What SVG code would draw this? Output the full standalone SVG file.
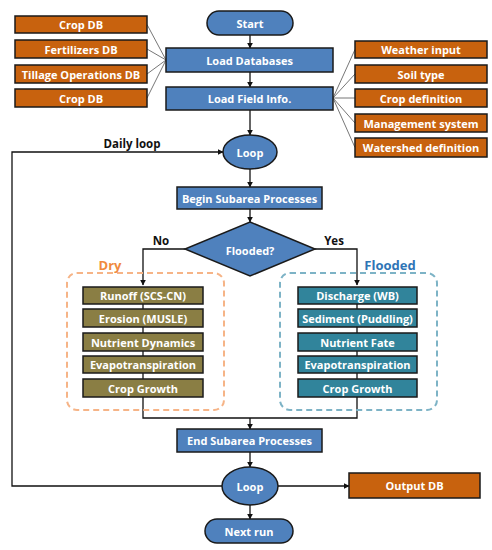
<svg xmlns="http://www.w3.org/2000/svg" width="492" height="550" viewBox="0 0 492 550">
<defs>
<marker id="ah" viewBox="0 0 10 10" refX="9" refY="5" markerWidth="6" markerHeight="6" orient="auto" markerUnits="userSpaceOnUse"><path d="M0,0 L10,5 L0,10 z" fill="#111"/></marker>
<style>
.blue{fill:#4F81BD;stroke:#1a1a1a;stroke-width:1.5}
.org{fill:#C8620E;stroke:#1a1a1a;stroke-width:1.5}
.olive{fill:#8A7E44;stroke:#1a1a1a;stroke-width:1.5}
.teal{fill:#31849B;stroke:#1a1a1a;stroke-width:1.5}
.t{font-family:"Open Sans","Noto Sans",sans-serif;font-weight:bold;font-size:11px;fill:#fff;text-anchor:middle;dominant-baseline:central}
.lbl{font-family:"Open Sans","Noto Sans",sans-serif;font-weight:bold;font-size:11.5px;fill:#111;text-anchor:middle;dominant-baseline:central}
.ln{fill:none;stroke:#111;stroke-width:1.3}
.gl{fill:none;stroke:#777;stroke-width:1}
</style>
</defs>
<g id="connectors">
<path class="ln" d="M250,35 V48" marker-end="url(#ah)"/>
<path class="ln" d="M250,72 V87" marker-end="url(#ah)"/>
<path class="ln" d="M250,110 V135" marker-end="url(#ah)"/>
<path class="ln" d="M250,169 V187" marker-end="url(#ah)"/>
<path class="ln" d="M250,209 V222" marker-end="url(#ah)"/>
<path class="ln" d="M185,249 H143 V285" marker-end="url(#ah)"/>
<path class="ln" d="M315,249 H357 V285" marker-end="url(#ah)"/>
<path class="ln" d="M143,304 V379 M357,304 V379"/>
<path class="ln" d="M143,397 V418 H357 V397"/>
<path class="ln" d="M250,418 V429" marker-end="url(#ah)"/>
<path class="ln" d="M250,452 V467" marker-end="url(#ah)"/>
<path class="ln" d="M250,505 V519" marker-end="url(#ah)"/>
<path class="ln" d="M278,486 H349" marker-end="url(#ah)"/>
<path class="ln" d="M222,486 H12 V152 H223" marker-end="url(#ah)"/>
<path class="gl" d="M147,24.5 L166,60 M147,49 L166,60 M147,74 L166,60 M147,98 L166,60"/>
<path class="gl" d="M355,49.5 L333,98 M355,74 L333,98 M355,98 L333,98 M355,123 L333,98 M355,147.5 L333,98"/>
<text class="lbl" x="132" y="143">Daily loop</text>
<text class="lbl" x="161" y="240">No</text>
<text class="lbl" x="334" y="240">Yes</text>
</g>
<g id="start"><rect class="blue" x="207" y="11" width="86" height="24" rx="12"/><text class="t" x="250" y="23">Start</text></g>
<g id="load-db"><rect class="blue" x="166" y="48" width="167" height="24"/><text class="t" x="249.5" y="60">Load Databases</text></g>
<g id="load-field"><rect class="blue" x="166" y="87" width="167" height="23"/><text class="t" x="249.5" y="98.5">Load Field Info.</text></g>
<g id="db1"><rect class="org" x="15" y="16" width="132" height="17"/><text class="t" x="81" y="24.5">Crop DB</text></g>
<g id="db2"><rect class="org" x="15" y="40" width="132" height="18"/><text class="t" x="81" y="49">Fertilizers DB</text></g>
<g id="db3"><rect class="org" x="15" y="65" width="132" height="18"/><text class="t" x="81" y="74">Tillage Operations DB</text></g>
<g id="db4"><rect class="org" x="15" y="89" width="132" height="18"/><text class="t" x="81" y="98">Crop DB</text></g>
<g id="in1"><rect class="org" x="355" y="41" width="132" height="17"/><text class="t" x="421" y="49.5">Weather input</text></g>
<g id="in2"><rect class="org" x="355" y="65" width="132" height="18"/><text class="t" x="421" y="74">Soil type</text></g>
<g id="in3"><rect class="org" x="355" y="89" width="132" height="18"/><text class="t" x="421" y="98">Crop definition</text></g>
<g id="in4"><rect class="org" x="355" y="114" width="132" height="18"/><text class="t" x="421" y="123">Management system</text></g>
<g id="in5"><rect class="org" x="355" y="138" width="132" height="19"/><text class="t" x="421" y="147.5">Watershed definition</text></g>
<g id="loop1"><ellipse class="blue" cx="250" cy="152" rx="27" ry="17"/><text class="t" x="250" y="152">Loop</text></g>
<g id="begin"><rect class="blue" x="177" y="187" width="145" height="22"/><text class="t" x="249.5" y="198">Begin Subarea Processes</text></g>
<g id="flooded-q"><path class="blue" d="M250,222 L315,249 L250,276 L185,249 Z"/><text class="t" x="250" y="250">Flooded?</text></g>
<g id="dry">
<rect x="67" y="273" width="157" height="137" rx="10" fill="none" stroke="#F6B487" stroke-width="2" stroke-dasharray="6,4"/>
<text x="110" y="265" font-family="Open Sans, Noto Sans, sans-serif" font-weight="bold" font-size="13" fill="#F08A3E" text-anchor="middle" dominant-baseline="central">Dry</text>
<g id="d1"><rect class="olive" x="83" y="287" width="120" height="17"/><text class="t" x="143" y="295.5">Runoff (SCS-CN)</text></g>
<g id="d2"><rect class="olive" x="83" y="309" width="120" height="18"/><text class="t" x="143" y="318">Erosion (MUSLE)</text></g>
<g id="d3"><rect class="olive" x="83" y="333" width="120" height="18"/><text class="t" x="143" y="342">Nutrient Dynamics</text></g>
<g id="d4"><rect class="olive" x="83" y="356" width="120" height="17"/><text class="t" x="143" y="364.5">Evapotranspiration</text></g>
<g id="d5"><rect class="olive" x="83" y="379" width="120" height="18"/><text class="t" x="143" y="388">Crop Growth</text></g>
</g>
<g id="flooded">
<rect x="280" y="273" width="157" height="137" rx="10" fill="none" stroke="#7DB3C6" stroke-width="2" stroke-dasharray="6,4"/>
<text x="390" y="265" font-family="Open Sans, Noto Sans, sans-serif" font-weight="bold" font-size="13" fill="#2E75B6" text-anchor="middle" dominant-baseline="central">Flooded</text>
<g id="f1"><rect class="teal" x="298" y="287" width="119" height="17"/><text class="t" x="357.5" y="295.5">Discharge (WB)</text></g>
<g id="f2"><rect class="teal" x="298" y="309" width="119" height="18"/><text class="t" x="357.5" y="318">Sediment (Puddling)</text></g>
<g id="f3"><rect class="teal" x="298" y="333" width="119" height="18"/><text class="t" x="357.5" y="342">Nutrient Fate</text></g>
<g id="f4"><rect class="teal" x="298" y="356" width="119" height="17"/><text class="t" x="357.5" y="364.5">Evapotranspiration</text></g>
<g id="f5"><rect class="teal" x="298" y="379" width="119" height="18"/><text class="t" x="357.5" y="388">Crop Growth</text></g>
</g>
<g id="end"><rect class="blue" x="177" y="429" width="145" height="23"/><text class="t" x="249.5" y="440.5">End Subarea Processes</text></g>
<g id="loop2"><ellipse class="blue" cx="250" cy="486" rx="28" ry="19"/><text class="t" x="250" y="486">Loop</text></g>
<g id="output"><rect class="org" x="349" y="473" width="131" height="25"/><text class="t" x="414.5" y="485.5">Output DB</text></g>
<g id="next"><rect class="blue" x="205" y="519" width="88" height="24" rx="12"/><text class="t" x="249" y="531">Next run</text></g>
</svg>
